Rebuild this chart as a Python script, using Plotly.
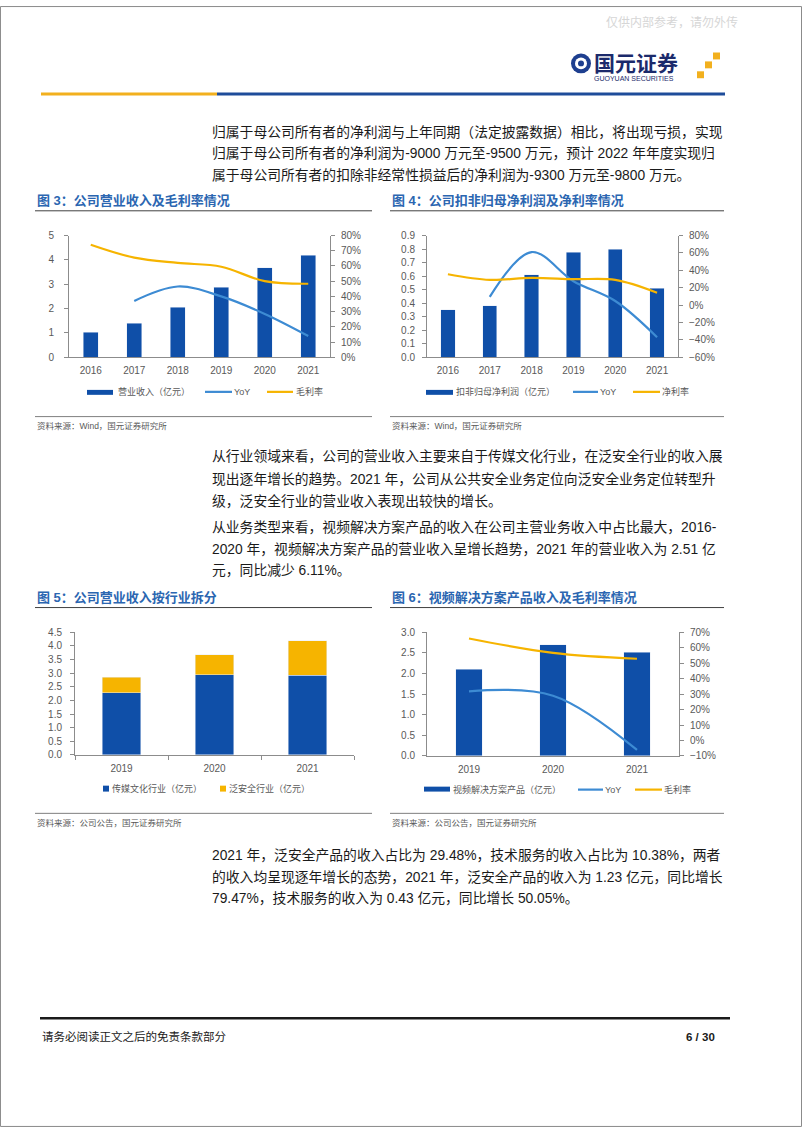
import plotly.graph_objects as go

# ---- data ----
years6 = ['2016', '2017', '2018', '2019', '2020', '2021']
revenue = [1.02, 1.40, 2.05, 2.87, 3.68, 4.20]          # 营业收入（亿元）
revenue_yoy = [None, 0.37, 0.465, 0.40, 0.285, 0.14]
gross_margin = [0.74, 0.655, 0.62, 0.595, 0.50, 0.483]

net_profit = [0.35, 0.38, 0.61, 0.775, 0.80, 0.51]       # 扣非归母净利润（亿元）
net_profit_yoy = [None, 0.095, 0.61, 0.275, 0.047, -0.37]
net_margin = [0.355, 0.29, 0.313, 0.298, 0.29, 0.142]

years3 = ['2019', '2020', '2021']
media_rev = [2.28, 2.94, 2.93]                           # 传媒文化行业（亿元）
security_rev = [0.58, 0.73, 1.26]                        # 泛安全行业（亿元）

video_rev = [2.10, 2.70, 2.52]                           # 视频解决方案产品（亿元）
video_yoy = [0.318, 0.29, -0.061]
video_gm = [0.66, 0.567, 0.529]

W, H = 802, 1133
BLUE = '#0F4FA8'
LBLUE = '#3D8BD3'
GOLD = '#F6B400'
TITLE = '#2B66B1'
AX = '#8C8C8C'
GREY_TXT = '#595959'
FONT = 'Liberation Sans, Noto Sans CJK SC'


def fx(x):
    return x / W


def fy(y):
    return 1 - y / H


annotations = []
shapes = []


def text(x, y, s, size, color='#1a1a1a', anchor='left', bold=False):
    if bold:
        s = '<b>' + s + '</b>'
    annotations.append(dict(x=fx(x), y=fy(y), xref='paper', yref='paper', text=s,
                            showarrow=False, xanchor=anchor, yanchor='middle',
                            font=dict(family=FONT, size=size, color=color)))


def hline(x0, x1, y, color, width):
    shapes.append(dict(type='line', xref='paper', yref='paper', x0=fx(x0), x1=fx(x1),
                       y0=fy(y), y1=fy(y), line=dict(color=color, width=width)))


def rect(x0, y0, x1, y1, color):
    shapes.append(dict(type='rect', xref='paper', yref='paper', x0=fx(x0), x1=fx(x1),
                       y0=fy(y1), y1=fy(y0), fillcolor=color, line=dict(width=0)))


fig = go.Figure()

# chart 1
fig.add_trace(go.Bar(x=years6, y=revenue, marker_color=BLUE, width=0.34, xaxis='x', yaxis='y'))
fig.add_trace(go.Scatter(x=years6, y=revenue_yoy, mode='lines', line=dict(color=LBLUE, width=2.2, shape='spline'),
                         xaxis='x', yaxis='y2'))
fig.add_trace(go.Scatter(x=years6, y=gross_margin, mode='lines', line=dict(color=GOLD, width=2.2, shape='spline'),
                         xaxis='x', yaxis='y2'))
# chart 2
fig.add_trace(go.Bar(x=years6, y=net_profit, marker_color=BLUE, width=0.34, xaxis='x2', yaxis='y3'))
fig.add_trace(go.Scatter(x=years6, y=net_profit_yoy, mode='lines', line=dict(color=LBLUE, width=2.2, shape='spline'),
                         xaxis='x2', yaxis='y4'))
fig.add_trace(go.Scatter(x=years6, y=net_margin, mode='lines', line=dict(color=GOLD, width=2.2, shape='spline'),
                         xaxis='x2', yaxis='y4'))
# chart 3
fig.add_trace(go.Bar(x=years3, y=media_rev, marker_color=BLUE, width=0.415, xaxis='x3', yaxis='y5'))
fig.add_trace(go.Bar(x=years3, y=security_rev, marker_color=GOLD, width=0.415, xaxis='x3', yaxis='y5'))
# chart 4
fig.add_trace(go.Bar(x=years3, y=video_rev, marker_color=BLUE, width=0.32, xaxis='x4', yaxis='y6'))
fig.add_trace(go.Scatter(x=years3, y=video_yoy, mode='lines', line=dict(color=LBLUE, width=2.2, shape='spline'),
                         xaxis='x4', yaxis='y7'))
fig.add_trace(go.Scatter(x=years3, y=video_gm, mode='lines', line=dict(color=GOLD, width=2.2, shape='spline'),
                         xaxis='x4', yaxis='y7'))

tick_font = dict(family=FONT, size=10, color=GREY_TXT)


def xax(x0, x1, y, n, anchor, ticks=''):
    return dict(domain=[fx(x0), fx(x1)], anchor=anchor, type='category', range=[-0.5, n - 0.5],
                showline=True, linecolor=AX, linewidth=1, ticks=ticks, tickson='boundaries',
                ticklen=4, tickcolor=AX, showgrid=False, tickfont=tick_font, ticklabelstandoff=4)


def yax(y0, y1, anchor, rng, dtick, fmt, standoff=6):
    return dict(domain=[fy(y1), fy(y0)], anchor=anchor, range=rng, dtick=dtick, tickformat=fmt,
                showline=True, linecolor=AX, linewidth=1, ticks='outside', ticklen=4, tickcolor=AX,
                showgrid=False, zeroline=False, tickfont=tick_font, ticklabelstandoff=standoff)


def y2ax(over, anchor, rng, dtick, fmt):
    return dict(overlaying=over, anchor=anchor, side='right', range=rng, dtick=dtick, tickformat=fmt,
                showline=True, linecolor=AX, linewidth=1, ticks='outside', ticklen=4, tickcolor=AX,
                showgrid=False, zeroline=False, tickfont=tick_font, ticklabelstandoff=4)


fig.update_layout(
    width=W, height=H, margin=dict(l=0, r=0, t=0, b=0),
    paper_bgcolor='white', plot_bgcolor='white', showlegend=False,
    barmode='stack', bargap=0.5,
    xaxis=xax(69, 330, 355, 6, 'y'),
    yaxis=yax(232, 355, 'x', [0, 5], 1, 'd', 8),
    yaxis2=y2ax('y', 'x', [0, 0.8], 0.1, '.0%'),
    xaxis2=xax(427, 678, 355, 6, 'y3'),
    yaxis3=yax(232, 355, 'x2', [0, 0.9], 0.1, '.1f', 5),
    yaxis4=y2ax('y3', 'x2', [-0.6, 0.8], 0.2, '.0%'),
    xaxis3=xax(75, 354, 757, 3, 'y5', ticks='outside'),
    yaxis5=yax(633, 757, 'x3', [0, 4.5], 0.5, '.1f', 6),
    xaxis4=xax(427, 679, 758, 3, 'y6'),
    yaxis6=yax(633, 758, 'x4', [0, 3], 0.5, '.1f', 5),
    yaxis7=y2ax('y6', 'x4', [-0.1, 0.7], 0.1, '.0%'),
)

# page frame, header
shapes.append(dict(type='rect', xref='paper', yref='paper', x0=0.0006, x1=0.9994, y0=0.0005, y1=0.9995,
                   line=dict(color='#8a8a8a', width=1)))
text(740, 17, '仅供内部参考，请勿外传', 12, '#d6d6d6', anchor='right')
shapes.append(dict(type='circle', xref='paper', yref='paper', x0=fx(571), x1=fx(591), y0=fy(68), y1=fy(48),
                   fillcolor='#1E3F8F', line=dict(width=0)))
shapes.append(dict(type='circle', xref='paper', yref='paper', x0=fx(575), x1=fx(587), y0=fy(64), y1=fy(52),
                   fillcolor='white', line=dict(width=0)))
shapes.append(dict(type='circle', xref='paper', yref='paper', x0=fx(578), x1=fx(584), y0=fy(61), y1=fy(55),
                   fillcolor='#1E3F8F', line=dict(width=0)))
text(592, 58, '国元证券', 21, '#1B2A6B', bold=True)
text(592, 73, 'GUOYUAN SECURITIES', 7, '#1B2A6B')
rect(713, 47, 720, 54, '#F2B01E')
rect(705, 56, 712, 63, '#F2B01E')
rect(697, 66, 704, 73, '#F2B01E')
hline(41, 217, 89, '#F2B01E', 3)
hline(217, 725, 89, '#1E4C9A', 3)

# body text
BODY = 13.8
para = [
    (127, '归属于母公司所有者的净利润与上年同期（法定披露数据）相比，将出现亏损，实现'),
    (149, '归属于母公司所有者的净利润为-9000 万元至-9500 万元，预计 2022 年年度实现归'),
    (171, '属于母公司所有者的扣除非经常性损益后的净利润为-9300 万元至-9800 万元。'),
    (455, '从行业领域来看，公司的营业收入主要来自于传媒文化行业，在泛安全行业的收入展'),
    (478, '现出逐年增长的趋势。2021 年，公司从公共安全业务定位向泛安全业务定位转型升'),
    (500, '级，泛安全行业的营业收入表现出较快的增长。'),
    (527, '从业务类型来看，视频解决方案产品的收入在公司主营业务收入中占比最大，2016-'),
    (549, '2020 年，视频解决方案产品的营业收入呈增长趋势，2021 年的营业收入为 2.51 亿'),
    (571, '元，同比减少 6.11%。'),
    (858, '2021 年，泛安全产品的收入占比为 29.48%，技术服务的收入占比为 10.38%，两者'),
    (880, '的收入均呈现逐年增长的态势，2021 年，泛安全产品的收入为 1.23 亿元，同比增长'),
    (902, '79.47%，技术服务的收入为 0.43 亿元，同比增长 50.05%。'),
]
for y, s in para:
    text(210, y, s, BODY)

# chart titles, rules, sources
for x0, x1, ty, ly, sy, title, src in [
    (35, 372, 197, 207, 415, '图 3：公司营业收入及毛利率情况', '资料来源：Wind，国元证券研究所'),
    (390, 724, 197, 207, 415, '图 4：公司扣非归母净利润及净利率情况', '资料来源：Wind，国元证券研究所'),
    (35, 372, 598, 608, 816, '图 5：公司营业收入按行业拆分', '资料来源：公司公告，国元证券研究所'),
    (390, 724, 598, 608, 816, '图 6：视频解决方案产品收入及毛利率情况', '资料来源：公司公告，国元证券研究所'),
]:
    text(x0, ty, title, 13, TITLE, bold=True)
    hline(x0, x1, ly, '#404040', 1)
    hline(x0, x1, sy, '#7f7f7f', 1)
    text(x0, sy + 10, src, 8.5, GREY_TXT)

# legends
LEG = 9
rect(87, 388, 113, 393, BLUE)
text(116, 390, '营业收入（亿元）', LEG, GREY_TXT)
hline(205, 232, 390, LBLUE, 2.2)
text(232, 390, 'YoY', LEG, GREY_TXT)
hline(267, 293, 390, GOLD, 2.2)
text(294, 390, '毛利率', LEG, GREY_TXT)

rect(426, 388, 453, 393, BLUE)
text(454, 390, '扣非归母净利润（亿元）', LEG, GREY_TXT)
hline(573, 598, 390, LBLUE, 2.2)
text(598, 390, 'YoY', LEG, GREY_TXT)
hline(633, 660, 390, GOLD, 2.2)
text(660, 390, '净利率', LEG, GREY_TXT)

rect(103, 788, 109, 794, BLUE)
text(110, 791, '传媒文化行业（亿元）', LEG, GREY_TXT)
rect(220, 788, 226, 794, GOLD)
text(227, 791, '泛安全行业（亿元）', LEG, GREY_TXT)

rect(424, 789, 450, 794, BLUE)
text(451, 792, '视频解决方案产品（亿元）', LEG, GREY_TXT)
hline(578, 603, 792, LBLUE, 2.2)
text(603, 792, 'YoY', LEG, GREY_TXT)
hline(635, 662, 792, GOLD, 2.2)
text(662, 792, '毛利率', LEG, GREY_TXT)

# footer
hline(40, 730, 1023, '#1a1a1a', 2.5)
text(40, 1042, '请务必阅读正文之后的免责条款部分', 11.5, '#1a1a1a')
text(717, 1042, '6 / 30', 11.5, '#1a1a1a', anchor='right', bold=True)

fig.update_layout(annotations=annotations, shapes=shapes)
# drop the default body margin so the page lines up with the window, no modebar
fig.write_html('out.html', config={'displayModeBar': False},
               post_script="document.body.style.margin='0';document.body.style.overflow='hidden';")
